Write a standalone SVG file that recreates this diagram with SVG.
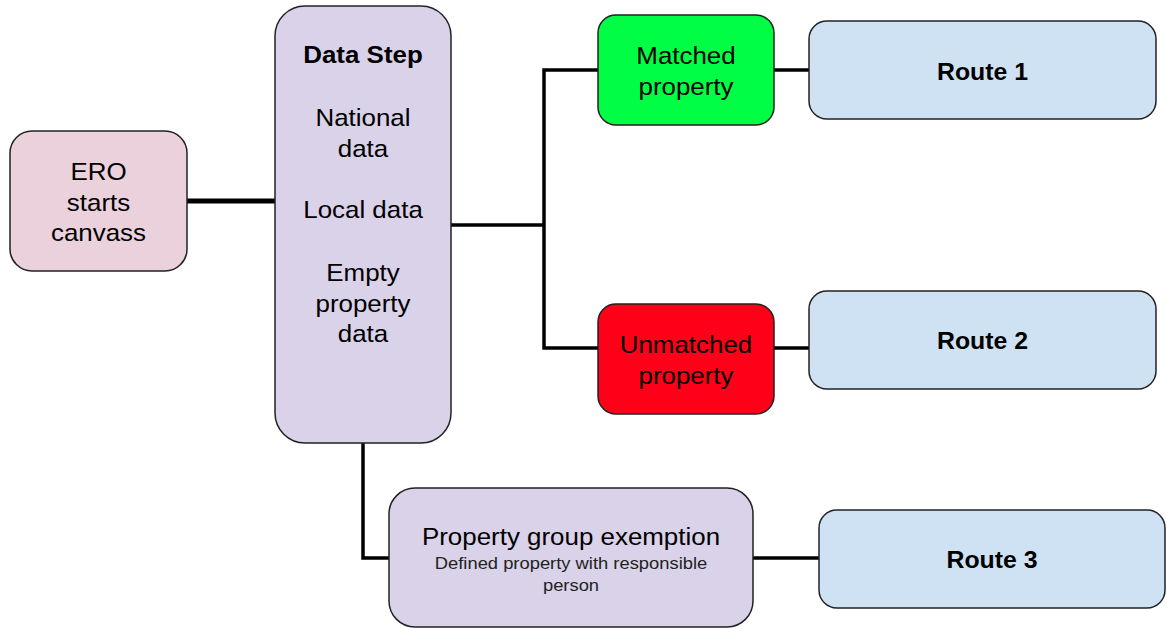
<svg xmlns="http://www.w3.org/2000/svg" width="1167" height="628" viewBox="0 0 1167 628">
<style>
.box{stroke:#222;stroke-width:1.5}
.t{font-family:"Liberation Sans",Arial,sans-serif;font-size:24px;fill:#000;text-anchor:middle}
.b{font-weight:bold;font-size:23px}
.s{font-size:17px;fill:#222}
.c{fill:none;stroke:#000;stroke-width:3.5}
</style>
<rect width="1167" height="628" fill="#fff"/>
<g id="connectors">
<path class="c" d="M187 201H275" style="stroke-width:5"/>
<path class="c" d="M451 225H544"/>
<path class="c" d="M598 70H544V348H598"/>
<path class="c" d="M774 70H809"/>
<path class="c" d="M774 348H809"/>
<path class="c" d="M363 443V558H389"/>
<path class="c" d="M753 558H819"/>
</g>
<g id="ero">
<rect class="box" x="10" y="131" width="177" height="140" rx="22" fill="#ead1dc"/>
<g transform="translate(98.5,0) scale(1.08,1)">
<text class="t" x="0" y="180">ERO</text>
<text class="t" x="0" y="211">starts</text>
<text class="t" x="0" y="241">canvass</text>
</g>
</g>
<g id="datastep">
<rect class="box" x="275" y="6" width="176" height="437" rx="30" fill="#d9d2e9"/>
<g transform="translate(363,0) scale(1.08,1)">
<text class="t b" x="0" y="63" style="font-size:24px">Data Step</text>
<text class="t" x="0" y="126">National</text>
<text class="t" x="0" y="157">data</text>
<text class="t" x="0" y="218">Local data</text>
<text class="t" x="0" y="281">Empty</text>
<text class="t" x="0" y="312">property</text>
<text class="t" x="0" y="342">data</text>
</g>
</g>
<g id="matched">
<rect class="box" x="598" y="15" width="176" height="110" rx="18" fill="#00ff44"/>
<g transform="translate(686,0) scale(1.08,1)">
<text class="t" x="0" y="64">Matched</text>
<text class="t" x="0" y="95">property</text>
</g>
</g>
<g id="unmatched">
<rect class="box" x="598" y="304" width="176" height="110" rx="18" fill="#ff0019"/>
<g transform="translate(686,0) scale(1.08,1)">
<text class="t" x="0" y="353">Unmatched</text>
<text class="t" x="0" y="384">property</text>
</g>
</g>
<g id="route1">
<rect class="box" x="809" y="21" width="347" height="98" rx="18" fill="#cfe2f3"/>
<text class="t b" x="982.5" y="80" transform="translate(982.5,0) scale(1.08,1) translate(-982.5,0)">Route 1</text>
</g>
<g id="route2">
<rect class="box" x="809" y="291" width="347" height="98" rx="18" fill="#cfe2f3"/>
<text class="t b" x="982.5" y="349" transform="translate(982.5,0) scale(1.08,1) translate(-982.5,0)">Route 2</text>
</g>
<g id="exemption">
<rect class="box" x="389" y="488" width="364" height="139" rx="26" fill="#d9d2e9"/>
<g transform="translate(571,0) scale(1.08,1)">
<text class="t" x="0" y="545">Property group exemption</text>
<text class="t s" x="0" y="569">Defined property with responsible</text>
<text class="t s" x="0" y="591">person</text>
</g>
</g>
<g id="route3">
<rect class="box" x="819" y="510" width="346" height="98" rx="18" fill="#cfe2f3"/>
<text class="t b" x="992" y="568" transform="translate(992,0) scale(1.08,1) translate(-992,0)">Route 3</text>
</g>
</svg>
